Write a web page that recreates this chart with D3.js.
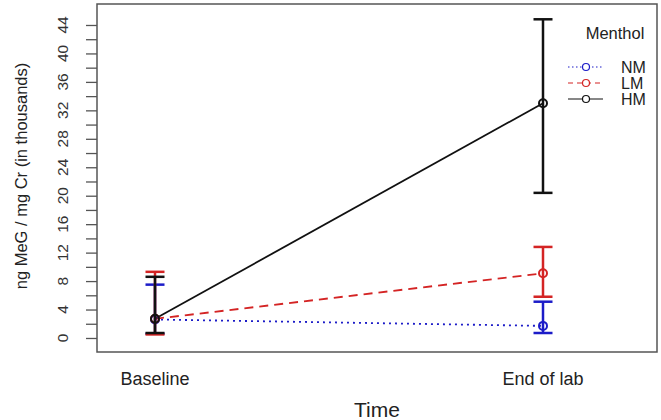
<!DOCTYPE html>
<html><head><meta charset="utf-8">
<script src="https://cdn.jsdelivr.net/npm/d3@7"></script>
<style>body{margin:0;background:#fff}svg{display:block}text{font-family:"Liberation Sans",Arial,sans-serif}</style>
</head><body><svg id="c" width="661" height="420"></svg>
<script>
const times = ["Baseline", "End of lab"];
const groups = ["NM", "LM", "HM"];
const colors = ["#1c1cc8", "#d42424", "#111111"];
const dashes = ["2,4", "9,6", null];
const meanNM = [2.6, 1.7];
const lowNM = [0.6, 0.7];
const highNM = [7.5, 5.1];
const meanLM = [2.7, 9.1];
const lowLM = [0.5, 5.8];
const highLM = [9.3, 12.8];
const meanHM = [2.7, 33.0];
const lowHM = [0.7, 20.4];
const highHM = [8.6, 44.8];
const yTicks = [0, 4, 8, 12, 16, 20, 24, 28, 32, 36, 40, 44];
const yMinor = [2, 6, 10, 14, 18, 22, 26, 30, 34, 38, 42];

const series = [
  {name: "NM", mean: meanNM, low: lowNM, high: highNM},
  {name: "LM", mean: meanLM, low: lowLM, high: highLM},
  {name: "HM", mean: meanHM, low: lowHM, high: highHM}
];

const svg = d3.select("#c");
const L = 97, R = 657, T = 4, B = 352;
const x = d3.scalePoint().domain(times).range([155, 543]);
const y = d3.scaleLinear().domain([-1.97, 46.95]).range([B, T]);

// frame
svg.append("rect").attr("x", L).attr("y", T).attr("width", R - L).attr("height", B - T)
  .attr("fill", "none").attr("stroke", "#555").attr("stroke-width", 1.5);

// y axis
const ax = svg.append("g").attr("transform", `translate(${L},0)`)
  .call(d3.axisLeft(y).tickValues(yTicks.concat(yMinor)).tickSize(11).tickFormat(""));
ax.select(".domain").remove();
ax.selectAll("line").attr("stroke", "#555").attr("stroke-width", 1.3);
yTicks.forEach(t => {
  svg.append("text").attr("transform", `translate(${L - 34},${y(t)}) rotate(-90)`)
    .attr("text-anchor", "middle").attr("dy", "0.35em").attr("font-size", 15.5).attr("fill", "#333").text(t);
});

// x labels
times.forEach(t => {
  svg.append("text").attr("x", x(t)).attr("y", 385).attr("text-anchor", "middle")
    .attr("font-size", 18).attr("fill", "#222").text(t);
});
svg.append("text").attr("x", (L + R) / 2).attr("y", 417).attr("text-anchor", "middle")
  .attr("font-size", 21).attr("fill", "#222").text("Time");
svg.append("text").attr("transform", `translate(27,${(T + B) / 2 - 2}) rotate(-90)`)
  .attr("text-anchor", "middle").attr("font-size", 16.5).attr("fill", "#222").text("ng MeG / mg Cr (in thousands)");

// series
series.forEach((s, i) => {
  const g = svg.append("g");
  const pts = times.map((t, j) => ({t, m: s.mean[j], lo: s.low[j], hi: s.high[j]}));
  g.append("path").datum(pts)
    .attr("d", d3.line().x(d => x(d.t)).y(d => y(d.m)))
    .attr("fill", "none").attr("stroke", colors[i]).attr("stroke-width", 1.8)
    .attr("stroke-dasharray", dashes[i]);
});
series.forEach((s, i) => {
  const g = svg.append("g");
  const pts = times.map((t, j) => ({t, m: s.mean[j], lo: s.low[j], hi: s.high[j]}));
  pts.forEach(d => {
    g.append("line").attr("x1", x(d.t)).attr("x2", x(d.t)).attr("y1", y(d.lo)).attr("y2", y(d.hi))
      .attr("stroke", colors[i]).attr("stroke-width", 2.5);
    [d.lo, d.hi].forEach(v => g.append("line").attr("x1", x(d.t) - 9.5).attr("x2", x(d.t) + 9.5)
      .attr("y1", y(v)).attr("y2", y(v)).attr("stroke", colors[i]).attr("stroke-width", 2.5));
    g.append("circle").attr("cx", x(d.t)).attr("cy", y(d.m)).attr("r", 4)
      .attr("fill", "none").attr("stroke", colors[i]).attr("stroke-width", 2);
  });
});

// legend
svg.append("text").attr("x", 615).attr("y", 39).attr("text-anchor", "middle")
  .attr("font-size", 16.5).attr("fill", "#222").text("Menthol");
groups.forEach((gname, i) => {
  const ly = 67 + i * 16;
  svg.append("line").attr("x1", 568).attr("x2", 603).attr("y1", ly).attr("y2", ly)
    .attr("stroke", colors[i]).attr("stroke-width", 1.1).attr("stroke-dasharray", dashes[i] ? (i === 0 ? "1.5,2.5" : "5,4") : null);
  svg.append("circle").attr("cx", 586).attr("cy", ly).attr("r", 3.5).attr("fill", "#fff")
    .attr("stroke", colors[i]).attr("stroke-width", 1.2);
  svg.append("text").attr("x", 621).attr("y", ly).attr("dy", "0.36em").attr("font-size", 16)
    .attr("fill", "#222").text(gname);
});
</script></body></html>
